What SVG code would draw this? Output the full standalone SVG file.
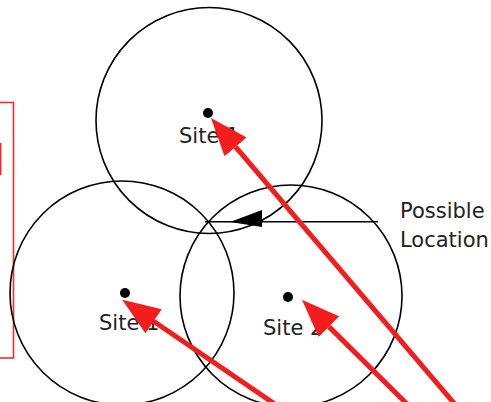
<svg xmlns="http://www.w3.org/2000/svg" width="491" height="402" viewBox="0 0 491 402">
<style>
.circ{fill:none;stroke:#000;stroke-width:1.6}
.dot{fill:#000}
.lbl{font-family:"DejaVu Sans","Liberation Sans",sans-serif;font-size:21px;fill:#222}
.red{fill:none;stroke:#f21d1d;stroke-width:5}
</style>
<defs>
<marker id="rh" markerUnits="userSpaceOnUse" markerWidth="38" markerHeight="29" viewBox="0 0 38 29" refX="0" refY="14.5" orient="auto">
<path d="M0,0 L38,14.5 L0,29 Z" fill="#f21d1d"/>
</marker>
</defs>
<rect x="-10" y="102.5" width="23.5" height="255.5" fill="none" stroke="#e8302f" stroke-width="1.6"/>
<rect x="0" y="143" width="1.5" height="32" fill="#e8302f"/>
<g id="site1-top">
<circle class="circ" cx="209" cy="120.5" r="113"/>
<circle class="dot" cx="208" cy="113" r="5"/>
<text class="lbl" x="179" y="143">Site 1</text>
</g>
<g id="site1-left">
<circle class="circ" cx="122" cy="293" r="112"/>
<circle class="dot" cx="125" cy="293" r="5"/>
<text class="lbl" x="99" y="330">Site 1</text>
</g>
<g id="site2">
<circle class="circ" cx="291" cy="296" r="111"/>
<circle class="dot" cx="288" cy="297" r="5"/>
<text class="lbl" x="263" y="335">Site 2</text>
</g>
<g id="possible-location">
<text class="lbl" x="400" y="218" font-size="22">Possible</text>
<text class="lbl" x="400" y="247" font-size="22">Location</text>
</g>
<g id="connectors">
<line x1="205" y1="221.7" x2="378" y2="221.7" stroke="#000" stroke-width="1.4"/>
<polygon points="230,222 262,210 262,227" fill="#000"/>
<path class="red" d="M459.8,410 L235.6,146.9" marker-end="url(#rh)"/>
<path class="red" d="M413,410 L328.9,326.6" marker-end="url(#rh)"/>
<path class="red" d="M283.5,410 L153.6,321.3" marker-end="url(#rh)"/>
</g>
</svg>
